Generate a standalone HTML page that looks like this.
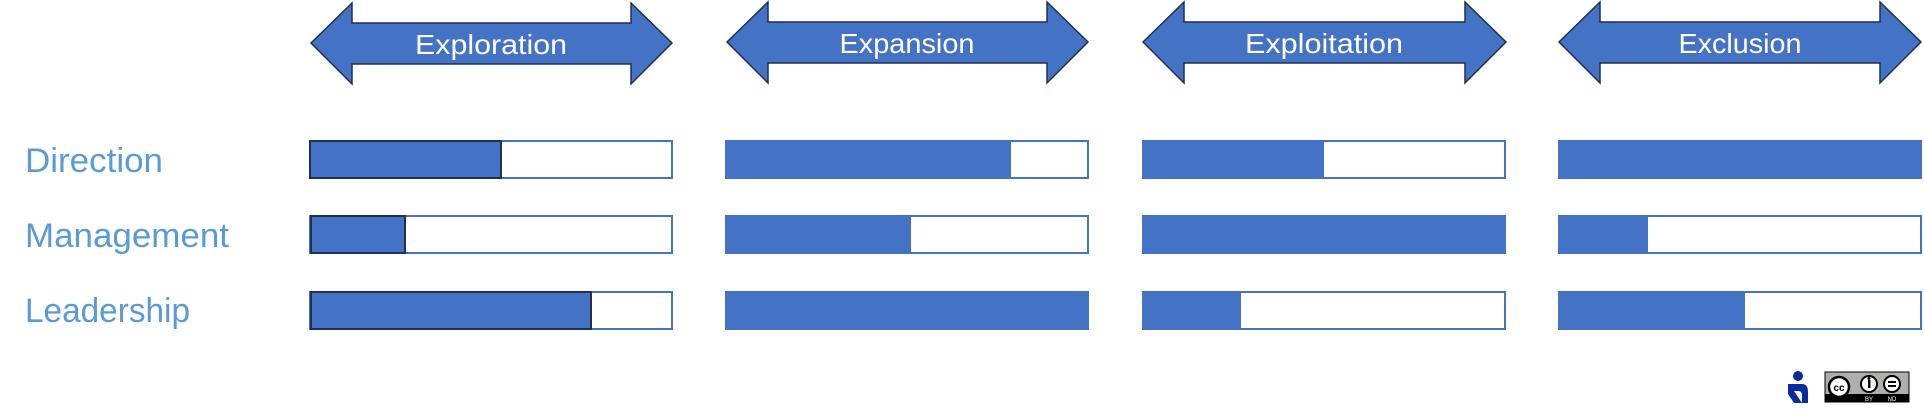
<!DOCTYPE html>
<html><head><meta charset="utf-8"><style>html,body{margin:0;padding:0;background:#fff}svg{display:block}</style></head>
<body>
<svg width="1924" height="418" viewBox="0 0 1924 418" xmlns="http://www.w3.org/2000/svg" font-family="Liberation Sans, sans-serif">
<g fill="#4472c4" stroke="#1f3050" stroke-width="1.5">
<polygon points="311,43 352,3 352,23 631,23 631,3 672,43 631,84 631,64 352,64 352,84"/>
<polygon points="727,42 768,2 768,22 1047,22 1047,2 1088,42 1047,83 1047,63 768,63 768,83"/>
<polygon points="1143,42 1184,2 1184,22 1465,22 1465,2 1506,42 1465,83 1465,63 1184,63 1184,83"/>
<polygon points="1559,42 1600,2 1600,22 1880,22 1880,2 1921,42 1880,83 1880,63 1600,63 1600,83"/>
</g>
<g fill="#fff" font-size="28" text-anchor="middle">
<text x="491" y="54" textLength="152" lengthAdjust="spacingAndGlyphs">Exploration</text>
<text x="907" y="53" textLength="135" lengthAdjust="spacingAndGlyphs">Expansion</text>
<text x="1324" y="53" textLength="158" lengthAdjust="spacingAndGlyphs">Exploitation</text>
<text x="1740" y="53" textLength="123" lengthAdjust="spacingAndGlyphs">Exclusion</text>
</g>
<g fill="#5b9bd5" font-size="34">
<text x="25" y="172" textLength="138" lengthAdjust="spacingAndGlyphs">Direction</text>
<text x="25" y="247" textLength="204" lengthAdjust="spacingAndGlyphs">Management</text>
<text x="25" y="322" textLength="165" lengthAdjust="spacingAndGlyphs">Leadership</text>
</g>
<g fill="#fff" stroke="#4472c4" stroke-width="2">
<rect x="310" y="141" width="362" height="37"/><rect x="726" y="141" width="362" height="37"/><rect x="1143" y="141" width="362" height="37"/><rect x="1559" y="141" width="362" height="37"/>
<rect x="310" y="216" width="362" height="37"/><rect x="726" y="216" width="362" height="37"/><rect x="1143" y="216" width="362" height="37"/><rect x="1559" y="216" width="362" height="37"/>
<rect x="310" y="292" width="362" height="37"/><rect x="726" y="292" width="362" height="37"/><rect x="1143" y="292" width="362" height="37"/><rect x="1559" y="292" width="362" height="37"/>
</g>
<g fill="#4472c4" stroke="#1f3050" stroke-width="2">
<rect x="310" y="141" width="191" height="37"/>
<rect x="311" y="216" width="94" height="37"/>
<rect x="311" y="292" width="280" height="37"/>
</g>
<g fill="#4472c4">
<rect x="725" y="140" width="286" height="39"/>
<rect x="1142" y="140" width="182" height="39"/>
<rect x="1558" y="140" width="364" height="39"/>
<rect x="725" y="215" width="186" height="39"/>
<rect x="1142" y="215" width="364" height="39"/>
<rect x="1558" y="215" width="90" height="39"/>
<rect x="725" y="291" width="364" height="39"/>
<rect x="1142" y="291" width="99" height="39"/>
<rect x="1558" y="291" width="187" height="39"/>
</g>
<g fill="#0a2aa0">
<circle cx="1798" cy="376" r="5"/>
<path d="M1788 384 h14 q6 0 6 8 v11 h-6 v-8 q0-4 -4-4 h-4 l8 12 h-8 l-6-9 z"/>
</g>
<g>
<rect x="1825" y="372" width="84" height="30" fill="#abb1aa" stroke="#000" stroke-width="1"/>
<rect x="1825" y="394" width="84" height="8" fill="#000"/>
<circle cx="1839" cy="387" r="10" fill="#fff" stroke="#000" stroke-width="2.5"/>
<text x="1839" y="391" font-size="10" font-weight="bold" text-anchor="middle" fill="#000">cc</text>
<circle cx="1869" cy="384" r="8" fill="#fff" stroke="#000" stroke-width="2"/>
<rect x="1868" y="380" width="2.5" height="8" fill="#000"/><circle cx="1869" cy="378.5" r="1.5" fill="#000"/>
<circle cx="1892" cy="384" r="8" fill="#fff" stroke="#000" stroke-width="2"/>
<rect x="1888" y="381" width="8" height="2" fill="#000"/><rect x="1888" y="385" width="8" height="2" fill="#000"/>
<text x="1869" y="401" font-size="6" fill="#fff" text-anchor="middle">BY</text>
<text x="1892" y="401" font-size="6" fill="#fff" text-anchor="middle">ND</text>
</g>
</svg>
</body></html>
